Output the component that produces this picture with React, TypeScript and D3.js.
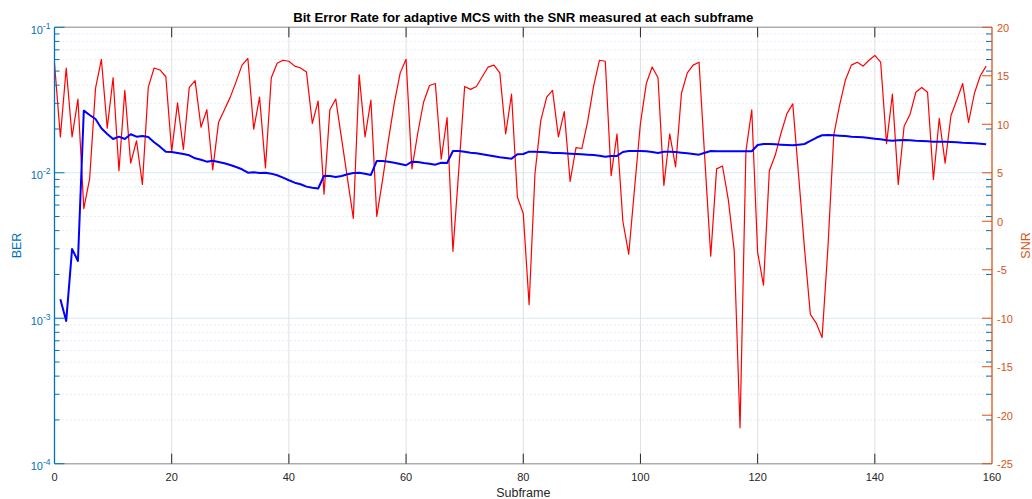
import React from "react";
import * as d3 from "d3";

// ---------- data ----------
const snrStart = 0; // first subframe of SNR series
const berStart = 1; // first subframe of BER series

const snrValues: number[] = [
  16.3, 8.7, 15.8, 8.7, 12.6, 1.3, 4.4, 13.7, 16.7, 9.6,
  14.8, 5.2, 13.5, 6.0, 8.3, 3.8, 13.8, 15.8, 15.6, 14.9,
  7.2, 12.2, 7.4, 13.8, 14.5, 9.7, 11.5, 5.3, 10.2, 11.5,
  12.8, 14.4, 16.1, 16.8, 9.5, 12.8, 5.5, 14.8, 16.3, 16.6,
  16.5, 16.0, 15.8, 15.4, 10.1, 12.4, 2.8, 11.5, 12.6, 8.5,
  4.4, 0.3, 15.1, 8.7, 12.5, 0.5, 4.3, 8.4, 12.2, 15.3,
  16.7, 5.4, 9.1, 12.3, 14.0, 14.2, 6.4, 10.7, -3.1, 5.3,
  13.9, 13.6, 13.9, 14.9, 15.9, 16.1, 15.3, 9.0, 13.1, 2.5,
  0.8, -8.6, 4.9, 10.4, 12.8, 13.5, 8.7, 11.3, 4.1, 7.6,
  7.5, 10.3, 13.9, 16.6, 16.5, 4.7, 9.0, 0.0, -3.4, 3.4,
  10.1, 14.2, 15.9, 14.8, 3.7, 9.0, 5.6, 13.2, 15.3, 16.1,
  16.4, 6.3, -3.6, 5.4, 5.7, 2.2, -3.0, -21.3, 7.2, 11.5,
  -3.2, -6.6, 5.2, 6.8, 9.1, 11.1, 12.1, 4.7, -2.8, -9.6,
  -10.5, -12.0, -2.7, 8.9, 12.0, 14.6, 16.1, 16.4, 16.0, 16.6,
  17.1, 16.4, 8.0, 13.1, 3.8, 9.8, 11.0, 13.3, 13.8, 13.3,
  4.3, 10.6, 6.0, 10.9, 12.5, 14.2, 10.2, 13.2, 15.0, 16.0,
];

const berValues: number[] = [
  0.00135, 0.000958, 0.002995, 0.002476, 0.02672, 0.02496, 0.02343, 0.02022, 0.01848, 0.01708,
  0.01771, 0.01708, 0.01839, 0.01771, 0.01791, 0.01762, 0.01621, 0.01512, 0.01396, 0.0139,
  0.01368, 0.01347, 0.01319, 0.01258, 0.0123, 0.01192, 0.01211, 0.01186, 0.01162, 0.01131,
  0.01096, 0.01057, 0.01002, 0.01008, 0.00997, 0.01002, 0.00986, 0.00961, 0.00925, 0.00888,
  0.00855, 0.00834, 0.00803, 0.0079, 0.0078, 0.00955, 0.00951, 0.00936, 0.00951, 0.00977,
  0.00997, 0.01002, 0.00986, 0.00966, 0.01205, 0.01205, 0.01192, 0.01173, 0.01149, 0.01126,
  0.01192, 0.01186, 0.01168, 0.01155, 0.01137, 0.01173, 0.01168, 0.01412, 0.01412, 0.01396,
  0.01374, 0.01361, 0.0134, 0.01319, 0.01298, 0.01278, 0.01264, 0.0125, 0.0134, 0.01347,
  0.01396, 0.01396, 0.0139, 0.01383, 0.01368, 0.01368, 0.01361, 0.01353, 0.01347, 0.0134,
  0.01332, 0.01325, 0.01311, 0.0129, 0.01305, 0.01305, 0.0139, 0.01412, 0.01412, 0.01412,
  0.01405, 0.0139, 0.01368, 0.01396, 0.01396, 0.0139, 0.01374, 0.01361, 0.01347, 0.01332,
  0.01374, 0.01412, 0.01405, 0.01405, 0.01405, 0.01405, 0.01405, 0.01405, 0.01405, 0.01553,
  0.01577, 0.01577, 0.0157, 0.0156, 0.01553, 0.01545, 0.0156, 0.01577, 0.01654, 0.0174,
  0.0181, 0.01819, 0.0181, 0.01799, 0.01791, 0.01771, 0.01762, 0.01754, 0.01734, 0.01715,
  0.01699, 0.01672, 0.01661, 0.01672, 0.0168, 0.01672, 0.01661, 0.01654, 0.01646, 0.01636,
  0.01636, 0.01636, 0.01628, 0.01621, 0.0161, 0.01603, 0.01595, 0.01585, 0.0157,
];

const xTicks = [0, 20, 40, 60, 80, 100, 120, 140, 160];
const berDecades = [1e-4, 1e-3, 1e-2, 1e-1];
const berExponents = ["-4", "-3", "-2", "-1"];
const snrTicks = [-25, -20, -15, -10, -5, 0, 5, 10, 15, 20];

const title = "Bit Error Rate for adaptive MCS with the SNR measured at each subframe";
const xLabel = "Subframe";
const leftLabel = "BER";
const rightLabel = "SNR";

// ---------- layout ----------
const W = 1032;
const H = 499;
const L = 54.5;
const R = 992;
const T = 27.3;
const B = 463.7;

const BLUE_AX = "#0072BD";
const ORANGE_AX = "#D95319";
const FONT = "'Liberation Sans', Arial, Helvetica, sans-serif";

export default function App() {
  const x = d3.scaleLinear().domain([0, 160]).range([L, R]);
  const yBer = d3.scaleLog().domain([1e-4, 1e-1]).range([B, T]);
  const ySnr = d3.scaleLinear().domain([-25, 20]).range([B, T]);

  const minorBer: number[] = [];
  for (let e = 0; e < berDecades.length - 1; e++) {
    for (let k = 2; k <= 9; k++) minorBer.push(berDecades[e] * k);
  }

  const snrLine = d3
    .line<number>()
    .x((_, i) => x(snrStart + i))
    .y((d) => ySnr(d));
  const berLine = d3
    .line<number>()
    .x((_, i) => x(berStart + i))
    .y((d) => yBer(d));

  return (
    <div style={{ position: "absolute", left: 0, top: 0 }}>
      <svg width={W} height={H} style={{ display: "block", background: "#fff" }}>
        {/* vertical grid */}
        {xTicks.slice(1, -1).map((t) => (
          <line key={"vg" + t} x1={x(t)} x2={x(t)} y1={T} y2={B} stroke="#e0e0e0" strokeWidth={1} />
        ))}
        {/* minor horizontal grid */}
        {minorBer.map((v, i) => (
          <line
            key={"mg" + i}
            x1={L}
            x2={R}
            y1={yBer(v)}
            y2={yBer(v)}
            stroke="#c9dff0"
            strokeWidth={1}
            strokeDasharray="1,3"
          />
        ))}
        {/* major horizontal grid */}
        {berDecades.slice(1, -1).map((v, i) => (
          <line key={"hg" + i} x1={L} x2={R} y1={yBer(v)} y2={yBer(v)} stroke="#d9e8f4" strokeWidth={1} />
        ))}

        {/* data */}
        <path d={snrLine(snrValues) || ""} fill="none" stroke="#ff0000" strokeWidth={1.2} strokeLinejoin="round" />
        <path d={berLine(berValues) || ""} fill="none" stroke="#0000ff" strokeWidth={2} strokeLinejoin="round" />

        {/* top & bottom axis lines */}
        <line x1={L} x2={R} y1={T} y2={T} stroke="#adadad" strokeWidth={1.6} />
        <line x1={L} x2={R} y1={B} y2={B} stroke="#adadad" strokeWidth={1.6} />

        {/* x ticks (bottom and top) */}
        {xTicks.slice(1, -1).map((t) => (
          <g key={"xt" + t}>
            <line x1={x(t)} x2={x(t)} y1={B} y2={B - 10} stroke="#262626" strokeWidth={1} />
            <line x1={x(t)} x2={x(t)} y1={T} y2={T + 10} stroke="#262626" strokeWidth={1} />
          </g>
        ))}
        {xTicks.map((t) => (
          <text
            key={"xl" + t}
            x={x(t)}
            y={B + 17}
            textAnchor="middle"
            fontFamily={FONT}
            fontSize={11}
            fill="#262626"
          >
            {t}
          </text>
        ))}

        {/* left axis */}
        <line x1={L} x2={L} y1={T} y2={B} stroke={BLUE_AX} strokeWidth={1.3} />
        {berDecades.map((v, i) => (
          <line key={"lt" + i} x1={L} x2={L + 10} y1={yBer(v)} y2={yBer(v)} stroke={BLUE_AX} strokeWidth={1} />
        ))}
        {minorBer.map((v, i) => (
          <g key={"lmt" + i}>
            <line x1={L} x2={L + 5} y1={yBer(v)} y2={yBer(v)} stroke={BLUE_AX} strokeWidth={1} />
            <line x1={R - 6} x2={R} y1={yBer(v)} y2={yBer(v)} stroke={BLUE_AX} strokeWidth={1} />
          </g>
        ))}
        {berDecades.map((v, i) => (
          <text
            key={"ll" + i}
            x={L - 4}
            y={yBer(v) + 6.5}
            textAnchor="end"
            fontFamily={FONT}
            fontSize={11}
            fill={BLUE_AX}
          >
            10
            <tspan fontSize={8.5} dy={-5}>
              {berExponents[i]}
            </tspan>
          </text>
        ))}

        {/* right axis */}
        <line x1={R} x2={R} y1={T} y2={B} stroke={ORANGE_AX} strokeWidth={1.3} />
        {snrTicks.map((t) => (
          <line key={"rt" + t} x1={R - 10} x2={R} y1={ySnr(t)} y2={ySnr(t)} stroke={ORANGE_AX} strokeWidth={1} />
        ))}
        {snrTicks.map((t) => (
          <text
            key={"rl" + t}
            x={R + 5}
            y={ySnr(t) + 4.5}
            textAnchor="start"
            fontFamily={FONT}
            fontSize={11}
            fill={ORANGE_AX}
          >
            {t}
          </text>
        ))}

        {/* labels */}
        <text
          x={(L + R) / 2}
          y={21.7}
          textAnchor="middle"
          fontFamily={FONT}
          fontSize={13.2}
          fontWeight="bold"
          fill="#000"
        >
          {title}
        </text>
        <text x={(L + R) / 2} y={497} textAnchor="middle" fontFamily={FONT} fontSize={12.5} fill="#262626">
          {xLabel}
        </text>
        <text
          transform={`translate(21, ${(T + B) / 2}) rotate(-90)`}
          textAnchor="middle"
          fontFamily={FONT}
          fontSize={12.5}
          fill={BLUE_AX}
        >
          {leftLabel}
        </text>
        <text
          transform={`translate(1030, ${(T + B) / 2}) rotate(-90)`}
          textAnchor="middle"
          fontFamily={FONT}
          fontSize={12.5}
          fill={ORANGE_AX}
        >
          {rightLabel}
        </text>
      </svg>
    </div>
  );
}
